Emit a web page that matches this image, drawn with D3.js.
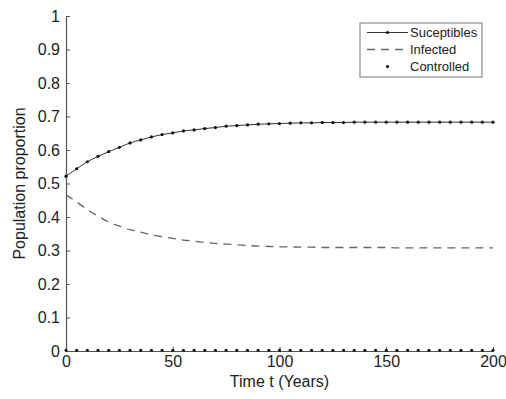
<!DOCTYPE html>
<html>
<head>
<meta charset="utf-8">
<script src="https://cdn.jsdelivr.net/npm/d3@7"></script>
<style>
body { margin: 0; background: #fff; }
text { font-family: "Liberation Sans", Arial, sans-serif; fill: #222; }
</style>
</head>
<body>
<div id="chart"></div>
<script>
// time in years, one sample every 5 years
var times = [0, 5, 10, 15, 20, 25, 30, 35, 40, 45, 50, 55, 60, 65, 70, 75, 80, 85, 90, 95,
    100, 105, 110, 115, 120, 125, 130, 135, 140, 145, 150, 155, 160, 165, 170, 175, 180, 185, 190, 195, 200];

var susceptibles = [0.522, 0.544, 0.565, 0.581, 0.595, 0.608, 0.621, 0.630, 0.639, 0.646,
    0.651, 0.657, 0.660, 0.664, 0.667, 0.671, 0.673, 0.675, 0.677, 0.678,
    0.679, 0.680, 0.681, 0.681, 0.682, 0.682, 0.682, 0.683, 0.683, 0.683,
    0.683, 0.683, 0.683, 0.683, 0.683, 0.683, 0.683, 0.683, 0.683, 0.683, 0.683];

var infected = [0.466, 0.445, 0.422, 0.403, 0.385, 0.373, 0.362, 0.355, 0.347, 0.341,
    0.336, 0.331, 0.328, 0.324, 0.321, 0.319, 0.317, 0.315, 0.313, 0.312,
    0.311, 0.311, 0.310, 0.310, 0.309, 0.309, 0.309, 0.309, 0.309, 0.309,
    0.309, 0.308, 0.308, 0.308, 0.308, 0.308, 0.308, 0.308, 0.308, 0.308, 0.308];

var controlled = [0.002, 0.002, 0.002, 0.002, 0.002, 0.002, 0.002, 0.002, 0.002, 0.002,
    0.002, 0.002, 0.002, 0.002, 0.002, 0.002, 0.002, 0.002, 0.002, 0.002,
    0.002, 0.002, 0.002, 0.002, 0.002, 0.002, 0.002, 0.002, 0.002, 0.002,
    0.002, 0.002, 0.002, 0.002, 0.002, 0.002, 0.002, 0.002, 0.002, 0.002, 0.002];

var xTicks = [0, 50, 100, 150, 200];
var yTicks = [0, 0.1, 0.2, 0.3, 0.4, 0.5, 0.6, 0.7, 0.8, 0.9, 1];
var legendLabels = ["Suceptibles", "Infected", "Controlled"];

var width = 506, height = 399;
var margin = { left: 66, right: 13, top: 16, bottom: 48 };

var svg = d3.select("#chart").append("svg")
    .attr("width", width)
    .attr("height", height);

var x = d3.scaleLinear().domain([0, 200]).range([margin.left, width - margin.right]);
var y = d3.scaleLinear().domain([0, 1]).range([height - margin.bottom, margin.top]);

// axes, ticks point inward
var xAxis = svg.append("g")
    .attr("transform", "translate(0," + y(0) + ")")
    .call(d3.axisBottom(x).tickValues(xTicks).tickSizeInner(-4).tickSizeOuter(0).tickPadding(5));
var yAxis = svg.append("g")
    .attr("transform", "translate(" + x(0) + ",0)")
    .call(d3.axisLeft(y).tickValues(yTicks).tickFormat(d3.format("~g")).tickSizeInner(-4).tickSizeOuter(0).tickPadding(6));

[xAxis, yAxis].forEach(function (a) {
    a.select(".domain").attr("stroke", "#555").attr("stroke-width", 1.2);
    a.selectAll(".tick line").attr("stroke", "#555");
    a.selectAll(".tick text").attr("font-size", 16).attr("fill", "#222")
        .attr("font-family", "Liberation Sans, Arial, sans-serif");
});

svg.append("text")
    .attr("x", x(100))
    .attr("y", 387)
    .attr("text-anchor", "middle")
    .attr("font-size", 16)
    .text("Time t (Years)");

svg.append("text")
    .attr("transform", "translate(25," + y(0.5) + ") rotate(-90)")
    .attr("text-anchor", "middle")
    .attr("font-size", 16)
    .text("Population proportion");

var line = function (vals) {
    return d3.line()
        .x(function (d, i) { return x(times[i]); })
        .y(function (d) { return y(d); })
        .curve(d3.curveMonotoneX)(vals);
};

// infected, dashed
svg.append("path")
    .attr("d", line(infected))
    .attr("fill", "none")
    .attr("stroke", "#666")
    .attr("stroke-width", 1.3)
    .attr("stroke-dasharray", "8,6");

// susceptibles, solid line with dots
svg.append("path")
    .attr("d", line(susceptibles))
    .attr("fill", "none")
    .attr("stroke", "#333")
    .attr("stroke-width", 1);

svg.selectAll(".sdot")
    .data(susceptibles)
    .enter().append("circle")
    .attr("class", "sdot")
    .attr("cx", function (d, i) { return x(times[i]); })
    .attr("cy", function (d) { return y(d); })
    .attr("r", 1.6)
    .attr("fill", "#111");

// controlled, dots only
svg.selectAll(".cdot")
    .data(controlled)
    .enter().append("circle")
    .attr("class", "cdot")
    .attr("cx", function (d, i) { return x(times[i]); })
    .attr("cy", function (d) { return y(d); })
    .attr("r", 1.5)
    .attr("fill", "#111");

// legend
var lg = svg.append("g").attr("transform", "translate(360,23)");
lg.append("rect")
    .attr("width", 122)
    .attr("height", 54)
    .attr("fill", "#fff")
    .attr("stroke", "#777")
    .attr("stroke-width", 1);

legendLabels.forEach(function (label, i) {
    var ry = 9.5 + i * 17;
    if (i == 0) {
        lg.append("line").attr("x1", 7).attr("x2", 48).attr("y1", ry).attr("y2", ry)
            .attr("stroke", "#333").attr("stroke-width", 1);
    }
    if (i == 1) {
        lg.append("line").attr("x1", 7).attr("x2", 48).attr("y1", ry).attr("y2", ry)
            .attr("stroke", "#666").attr("stroke-width", 1.3).attr("stroke-dasharray", "8,6");
    }
    if (i != 1) {
        lg.append("circle").attr("cx", 27.5).attr("cy", ry).attr("r", 1.6).attr("fill", "#111");
    }
    lg.append("text")
        .attr("x", 50)
        .attr("y", ry + 4.5)
        .attr("font-size", 13)
        .text(label);
});
</script>
</body>
</html>
